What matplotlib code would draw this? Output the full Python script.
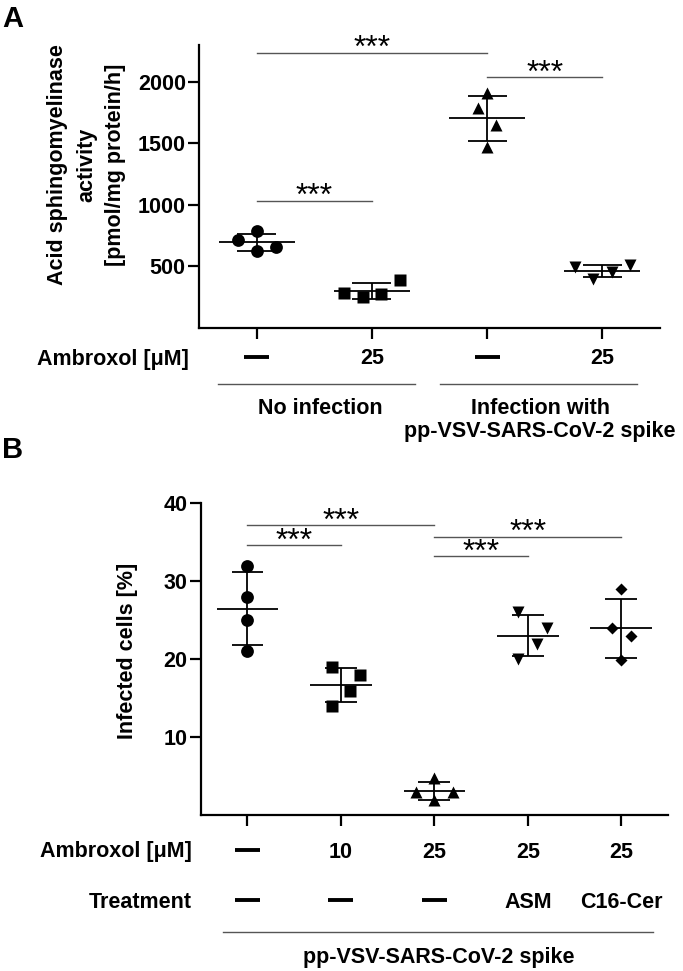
import matplotlib
matplotlib.use('Agg')
import matplotlib.pyplot as plt
import matplotlib.transforms as mtransforms
import numpy as np

plt.rcParams['font.family'] = ['Liberation Sans', 'DejaVu Sans']

# ---------------- data ----------------
# Panel A: acid sphingomyelinase activity [pmol/mg protein/h]
a_ambroxol = ['—', '25', '—', '25']
a_ctrl = [715, 783, 628, 655]
a_ctrl_amb = [283, 247, 275, 389]
a_inf = [1906, 1784, 1648, 1471]
a_inf_amb = [492, 397, 451, 511]
a_yticks = [500, 1000, 1500, 2000]
a_groups = ['No infection', 'Infection with\npp-VSV-SARS-CoV-2 spike']
a_sig = [(1, 3, 2237, '***'), (3, 4, 2036, '***'), (1, 2, 1033, '***')]

# Panel B: infected cells [%]
b_ambroxol = ['—', '10', '25', '25', '25']
b_treatment = ['—', '—', '—', 'ASM', 'C16-Cer']
b_ctrl = [31.9, 27.9, 24.9, 21.0]
b_amb10 = [18.9, 17.9, 15.9, 13.9]
b_amb25 = [4.7, 2.9, 2.9, 1.9]
b_amb25_asm = [26.0, 24.0, 21.9, 20.0]
b_amb25_cer = [28.9, 23.9, 22.9, 19.9]
b_yticks = [10, 20, 30, 40]
b_group = 'pp-VSV-SARS-CoV-2 spike'
b_sig = [(1, 3, 37.1, '***'), (1, 2, 34.5, '***'), (3, 5, 35.6, '***'), (3, 4, 33.1, '***')]

# ---------------- layout ----------------
W, H = 683, 971
FS = 15.5
fig = plt.figure(figsize=(W / 100, H / 100), dpi=100)


def fx(px):
    return px / W


def fy(py):
    return 1 - py / H


axA = fig.add_axes([fx(199), fy(327.7), (660 - 199) / W, (327.7 - 45) / H])
axB = fig.add_axes([fx(200.7), fy(815), (668 - 200.7) / W, (815 - 502.5) / H])


def style_axes(ax, xlim, ylim, yticks, n):
    ax.set_xlim(*xlim)
    ax.set_ylim(*ylim)
    for s in ['top', 'right']:
        ax.spines[s].set_visible(False)
    for s in ['left', 'bottom']:
        ax.spines[s].set_linewidth(1.6)
    ax.set_xticks(np.arange(1, n + 1))
    ax.set_xticklabels([])
    ax.set_yticks(yticks)
    ax.set_yticklabels([str(t) for t in yticks], fontsize=FS, fontweight='bold')
    ax.tick_params(axis='both', direction='out', length=8, width=1.6, pad=1.5)


def draw_group(ax, x, vals, offsets, marker, ms):
    vals = np.asarray(vals, dtype=float)
    ax.plot(x + np.asarray(offsets), vals, ls='none', marker=marker, ms=ms,
            color='black', mec='none', clip_on=False, zorder=3)
    m = vals.mean()
    s = vals.std(ddof=1)
    lw = 1.3
    ax.hlines(m, x - 0.33, x + 0.33, color='black', lw=lw, zorder=4)
    ax.vlines(x, m - s, m + s, color='black', lw=lw, zorder=4)
    ax.hlines([m - s, m + s], x - 0.17, x + 0.17, color='black', lw=lw, zorder=4)


def draw_sig(ax, sig):
    for x1, x2, y, txt in sig:
        ax.plot([x1, x2], [y, y], color='#555555', lw=1.0, clip_on=False)
        ax.annotate(txt, xy=((x1 + x2) / 2, y), xytext=(0, 2.6), textcoords='offset points',
                    ha='center', va='center', fontsize=23, clip_on=False)


def row_labels(ax, labels, ypx, dash_half):
    trans = mtransforms.blended_transform_factory(ax.transData, fig.transFigure)
    for i, lab in enumerate(labels):
        x = i + 1
        if lab == '—':
            ax.plot([x - dash_half, x + dash_half], [fy(ypx), fy(ypx)], transform=trans,
                    color='black', lw=2.8, solid_capstyle='butt', clip_on=False)
        else:
            ax.text(x, fy(ypx + 2), lab, transform=trans, ha='center', va='center',
                    fontsize=FS, fontweight='bold')
    return trans


# ---------------- panel A ----------------
style_axes(axA, (0.5, 4.5), (0, 2300), a_yticks, 4)
draw_group(axA, 1, a_ctrl, [-0.165, 0, 0, 0.165], 'o', 9.2)
draw_group(axA, 2, a_ctrl_amb, [-0.24, -0.08, 0.08, 0.24], 's', 8.4)
draw_group(axA, 3, a_inf, [0, -0.08, 0.08, 0], '^', 9.0)
draw_group(axA, 4, a_inf_amb, [-0.24, -0.08, 0.08, 0.24], 'v', 9.0)
draw_sig(axA, a_sig)

transA = row_labels(axA, a_ambroxol, 357, 0.108)
fig.text(fx(189), fy(359), 'Ambroxol [μM]', ha='right', va='center', fontsize=FS, fontweight='bold')
axA.plot([0.665, 2.37], [fy(384.3)] * 2, transform=transA, color='#555555', lw=1.0, clip_on=False)
axA.plot([2.59, 4.30], [fy(384.3)] * 2, transform=transA, color='#555555', lw=1.0, clip_on=False)
axA.text(1.55, fy(408), a_groups[0], transform=transA, ha='center', va='center',
         fontsize=FS, fontweight='bold')
g2 = a_groups[1].split('\n')
axA.text(3.46, fy(408), g2[0], transform=transA, ha='center', va='center',
         fontsize=FS, fontweight='bold')
axA.text(3.46, fy(432), g2[1], transform=transA, ha='center', va='center',
         fontsize=FS, fontweight='bold')

for xp, line in zip([58, 87, 115], ['Acid sphingomyelinase', 'activity', '[pmol/mg protein/h]']):
    fig.text(fx(xp), fy(165), line, rotation=90, ha='center', va='center',
             fontsize=FS, fontweight='bold')
fig.text(fx(2), fy(19), 'A', ha='left', va='center', fontsize=21, fontweight='bold')

# ---------------- panel B ----------------
style_axes(axB, (0.5, 5.5), (0, 40), b_yticks, 5)
draw_group(axB, 1, b_ctrl, [0, 0, 0, 0], 'o', 9.2)
draw_group(axB, 2, b_amb10, [-0.1, 0.2, 0.1, -0.1], 's', 8.4)
draw_group(axB, 3, b_amb25, [0, -0.2, 0.2, 0], '^', 9.0)
draw_group(axB, 4, b_amb25_asm, [-0.1, 0.2, 0.1, -0.1], 'v', 9.0)
draw_group(axB, 5, b_amb25_cer, [0, -0.1, 0.1, 0], 'D', 5.8)
draw_sig(axB, b_sig)

transB = row_labels(axB, b_ambroxol, 850, 0.134)
row_labels(axB, b_treatment, 900, 0.134)
fig.text(fx(192), fy(851), 'Ambroxol [μM]', ha='right', va='center', fontsize=FS, fontweight='bold')
fig.text(fx(192), fy(902), 'Treatment', ha='right', va='center', fontsize=FS, fontweight='bold')
axB.plot([0.735, 5.343], [fy(931.7)] * 2, transform=transB, color='#555555', lw=1.0, clip_on=False)
axB.text(3.05, fy(957), b_group, transform=transB, ha='center', va='center',
         fontsize=FS, fontweight='bold')

fig.text(fx(127), fy(651), 'Infected cells [%]', rotation=90, ha='center', va='center',
         fontsize=FS, fontweight='bold')
fig.text(fx(2), fy(450), 'B', ha='left', va='center', fontsize=21, fontweight='bold')

fig.savefig('out.png', dpi=100)
